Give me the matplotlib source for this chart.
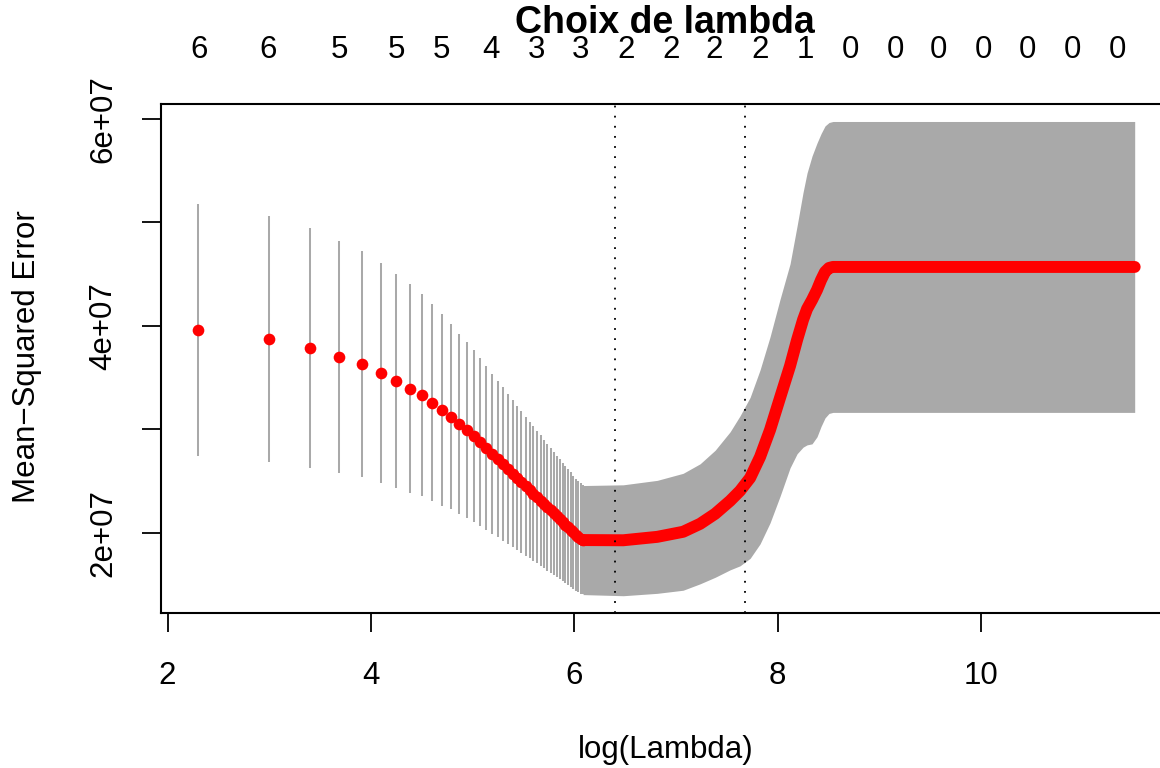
import numpy as np
import matplotlib
matplotlib.use('Agg')
from matplotlib import pyplot as plt
from matplotlib import transforms

plt.rcParams['font.family'] = ['Liberation Sans', 'DejaVu Sans']

# cross-validation curve, values (MSE in units of 1e7)
lambda_steps = np.arange(10, 450, 10)  # lambda = 10, 20, ..., 440 (distinct bars)
cvm_steps = [3.961, 3.874, 3.787, 3.700, 3.633, 3.546, 3.469, 3.391, 3.333, 3.256,
             3.188, 3.121, 3.053, 2.995, 2.937, 2.879, 2.821, 2.764, 2.713, 2.664,
             2.618, 2.573, 2.531, 2.490, 2.452, 2.415, 2.379, 2.344, 2.311, 2.279,
             2.247, 2.218, 2.188, 2.160, 2.132, 2.106, 2.079, 2.054, 2.030, 2.006,
             1.982, 1.962, 1.945, 1.933]
cvsd_steps = [1.218, 1.189, 1.157, 1.124, 1.089, 1.063, 1.033, 1.010, 0.980, 0.952,
              0.925, 0.895, 0.870, 0.848, 0.830, 0.810, 0.790, 0.772, 0.757, 0.742,
              0.728, 0.712, 0.698, 0.684, 0.672, 0.660, 0.650, 0.640, 0.630, 0.622,
              0.612, 0.603, 0.595, 0.587, 0.580, 0.573, 0.566, 0.560, 0.554, 0.548,
              0.543, 0.538, 0.533, 0.527]

# dense part of the grid (bars merge into a band), read at these log(lambda)
loglam_dense = [6.087, 6.482, 6.816, 7.071, 7.238, 7.386, 7.533, 7.631, 7.730, 7.828,
                7.926, 8.024, 8.123, 8.192, 8.251, 8.290, 8.339, 8.388, 8.428, 8.467,
                8.506, 8.545, 11.513]
cvm_dense = [1.930, 1.928, 1.961, 2.010, 2.087, 2.184, 2.309, 2.406, 2.531, 2.734,
             2.995, 3.304, 3.614, 3.865, 4.060, 4.164, 4.251, 4.348, 4.444, 4.522,
             4.560, 4.570, 4.570]
cvsd_dense = [0.527, 0.536, 0.546, 0.565, 0.580, 0.614, 0.667, 0.725, 0.778, 0.841,
              0.899, 0.952, 0.986, 1.101, 1.232, 1.314, 1.391, 1.420, 1.415, 1.411,
              1.406, 1.406, 1.406]

lambda_min = 600
lambda_1se = 2170

# number of non-zero coefficients shown on top
top_loglam = [2.305, 2.993, 3.690, 4.251, 4.693, 5.184, 5.627, 6.059, 6.511, 6.953,
              7.376, 7.828, 8.270, 8.713, 9.155, 9.587, 10.03, 10.46, 10.90, 11.34]
top_nz = ['6', '6', '5', '5', '5', '4', '3', '3', '2', '2',
          '2', '2', '1', '0', '0', '0', '0', '0', '0', '0']

scale = 1e7
grey = '#A9A9A9'

W, H = 1160, 768
fig = plt.figure(figsize=(W / 100, H / 100), dpi=100)
# plot region in pixels (right edge of R's box falls outside the picture)
left, right, top, bottom = 161, 1172, 104, 613
ax = fig.add_axes([left / W, 1 - bottom / H, (right - left) / W, (bottom - top) / H])

x_steps = np.log(lambda_steps)
cvm_s = np.array(cvm_steps) * scale
sd_s = np.array(cvsd_steps) * scale
ax.vlines(x_steps, cvm_s - sd_s, cvm_s + sd_s, color=grey, lw=1.45, zorder=2)

x_d = np.array(loglam_dense)
cvm_d = np.array(cvm_dense) * scale
sd_d = np.array(cvsd_dense) * scale
ax.fill_between(x_d, cvm_d - sd_d, cvm_d + sd_d, color=grey, lw=0, zorder=2)

ax.plot(x_d, cvm_d, color='red', lw=8.6, solid_capstyle='round',
        solid_joinstyle='round', zorder=3)
ax.plot(x_steps, cvm_s, 'o', color='red', ms=8.4, mew=0, zorder=4)

for lam in [lambda_min, lambda_1se]:
    ax.axvline(np.log(lam), color='black', lw=1.3, ls=(0, (1.0, 4.6)), zorder=5)

ax.set_xlim(1.935, 11.88)
ax.set_ylim(1.225e7, 6.145e7)

ax.set_xticks([2, 4, 6, 8, 10])
ax.set_xticklabels(['2', '4', '6', '8', '10'])
yt = np.arange(2, 7) * scale
ax.set_yticks(yt)
ax.set_yticklabels(['2e+07', '', '4e+07', '', '6e+07'], rotation=90, va='center')

ax.tick_params(axis='both', direction='out', length=13.7, width=1.3, labelsize=22.5)
ax.tick_params(axis='x', pad=21)
ax.tick_params(axis='y', pad=17)
for sp in ax.spines.values():
    sp.set_linewidth(1.5)

# number of variables along the top
trans = transforms.blended_transform_factory(ax.transData, fig.transFigure)
for xv, lab in zip(top_loglam, top_nz):
    ax.text(xv, 1 - 58 / H, lab, transform=trans, ha='center', va='baseline',
            fontsize=22.5, clip_on=False)

fig.text(665 / W, 1 - 33 / H, 'Choix de lambda', ha='center', va='baseline',
         fontsize=27, fontweight='bold')
fig.text(665.5 / W, 1 - 750 / H, 'log(Lambda)', ha='center', va='center', fontsize=22.5)
fig.text(27 / W, 1 - 357 / H, 'Mean\u2212Squared Error', ha='center', va='center',
         rotation=90, fontsize=22.5)

fig.savefig('out.png', dpi=100)
